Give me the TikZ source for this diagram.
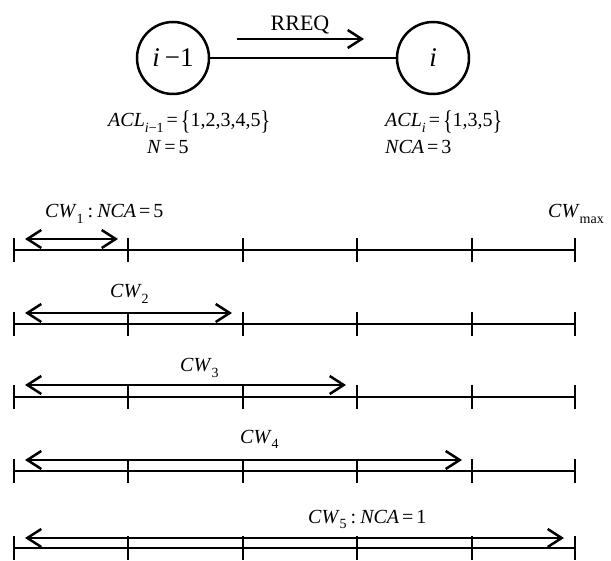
\documentclass[tikz,border=0pt]{standalone}
\usepackage{fontspec}
\usepackage{graphicx}
\setmainfont{Liberation Serif}
\usetikzlibrary{arrows.meta}
\newcommand{\sbs}[1]{\raisebox{-0.28em}{\fontsize{14}{14}\selectfont #1}}
\newcommand{\tbr}[1]{\raisebox{-0.15em}{\scalebox{1}[1.35]{#1}}}
\newcommand{\eqs}{\hspace{0.15em}=\hspace{0.15em}}
\begin{document}
\begin{tikzpicture}[x=1pt,y=-1pt,
  thick line/.style={line width=2.5pt},
  tip/.style={-{Straight Barb[length=14pt,width=18pt,line width=2.5pt]}},
  dtip/.style={{Straight Barb[length=14pt,width=18pt,line width=2.5pt]}-{Straight Barb[length=14pt,width=18pt,line width=2.5pt]}},
  nodecirc/.style={circle,draw,line width=2.5pt,minimum size=72pt,inner sep=0pt,font=\fontsize{27}{27}\selectfont},
  lbl/.style={inner sep=0pt,font=\fontsize{20}{20}\selectfont},
  toplbl/.style={inner sep=0pt,font=\fontsize{20}{20}\selectfont}]
\useasboundingbox (0,0) rectangle (611,561);

% top part
\node[nodecirc] (a) at (173,58) {\itshape i\hspace{0.18em}\upshape−1};
\node[nodecirc] (b) at (433,58) {\itshape i};
\draw[thick line] (a) -- (b);
\coordinate (r1) at (237,39);
\coordinate (r2) at (364,39);
\draw[thick line,tip] (r1) -- (r2);
\node[inner sep=0pt,font=\fontsize{22}{22}\selectfont,anchor=base] (rreq) at (300,31) {RREQ};

\node[toplbl,anchor=base west] (acl1) at (108,127) {\textit{ACL}\sbs{\textit{i}−1}\eqs\tbr{\{}1,2,3,4,5\tbr{\}}};
\node[toplbl,anchor=base west] (n1) at (147,154) {\textit{N}\eqs5};
\node[toplbl,anchor=base west] (acl2) at (385,127) {\textit{ACL}\sbs{\textit{i}}\eqs\tbr{\{}1,3,5\tbr{\}}};
\node[toplbl,anchor=base west] (nca) at (385,154) {\textit{NCA}\eqs3};

% timelines
\foreach \r/\y in {1/250,2/324,3/397,4/471,5/548}{
  \foreach \k/\x in {0/14,1/128,2/243,3/357,4/472,5/575}{
    \coordinate (t\r\k) at (\x,\y);
    \draw[thick line] (\x,\y-12) -- (\x,\y+12);
  }
  \draw[thick line] (t\r0) -- (t\r5);
}

% window arrows
\coordinate (s1) at (25,239);  \coordinate (e1) at (118,239);
\coordinate (s2) at (25,313);  \coordinate (e2) at (232,313);
\coordinate (s3) at (25,385);  \coordinate (e3) at (346,385);
\coordinate (s4) at (25,460);  \coordinate (e4) at (462,460);
\coordinate (s5) at (25,538);  \coordinate (e5) at (564,538);
\foreach \r in {1,...,5}{ \draw[thick line,dtip] (s\r) -- (e\r); }

\node[lbl,anchor=base west] (cw1) at (45,218) {\textit{CW}\sbs{1}\hspace{0.2em}:\hspace{0.2em}\textit{NCA}\eqs5};
\node[lbl,anchor=base west] (cwmax) at (548,218) {\textit{CW}\sbs{max}};
\node[lbl,anchor=base west] (cw2) at (110,298) {\textit{CW}\sbs{2}};
\node[lbl,anchor=base west] (cw3) at (180,372) {\textit{CW}\sbs{3}};
\node[lbl,anchor=base west] (cw4) at (240,443) {\textit{CW}\sbs{4}};
\node[lbl,anchor=base west] (cw5) at (308,523) {\textit{CW}\sbs{5}\hspace{0.2em}:\hspace{0.2em}\textit{NCA}\eqs1};
\end{tikzpicture}
\end{document}
